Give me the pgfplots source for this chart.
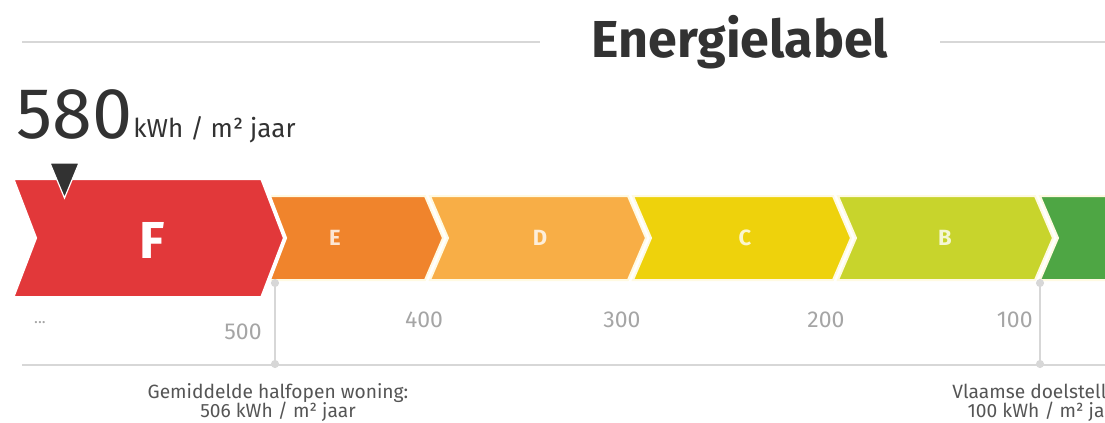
\documentclass[border=0pt]{standalone}
\usepackage{pgfplots}
\pgfplotsset{compat=1.18}
\usepackage{fontspec}
\setmainfont{Fira Sans}
\definecolor{cF}{RGB}{226,56,58}
\definecolor{cE}{RGB}{240,132,44}
\definecolor{cD}{RGB}{248,174,70}
\definecolor{cC}{RGB}{238,210,12}
\definecolor{cB}{RGB}{200,212,44}
\definecolor{cA}{RGB}{78,166,68}
\definecolor{gap}{RGB}{255,250,226}
\definecolor{dark}{RGB}{50,50,50}
\definecolor{tick}{RGB}{165,165,165}
\definecolor{rule}{RGB}{215,215,215}
\definecolor{note}{RGB}{85,85,85}
\begin{document}
\begin{tikzpicture}
\begin{axis}[
  scale only axis, width=552.5pt, height=211.5pt,
  xmin=0, xmax=1105, ymin=0, ymax=423, y dir=reverse,
  axis lines=none, clip=true,
]
% rules
\addplot[rule, line width=1pt] coordinates {(22,42) (540,42)};
\addplot[rule, line width=1pt] coordinates {(940,42) (1105,42)};
\addplot[rule, line width=1pt] coordinates {(22,365) (1105,365)};
\addplot[rule, line width=0.8pt, mark=*, mark size=1.6pt, mark options={fill=rule, draw=rule}] coordinates {(275,283) (275,364)};
\addplot[rule, line width=0.8pt, mark=*, mark size=1.6pt, mark options={fill=rule, draw=rule}] coordinates {(1040,283) (1040,364)};
% chevrons (pixel geometry)
\addplot[fill=cA, draw=gap, line width=1pt] coordinates {(1040,196) (1240,196) (1258,238) (1240,280) (1040,280) (1058,238)} -- cycle;
\addplot[fill=cB, draw=gap, line width=1pt] coordinates {(838,196) (1035,196) (1053,238) (1035,280) (838,280) (856,238)} -- cycle;
\addplot[fill=cC, draw=gap, line width=1pt] coordinates {(633,196) (833,196) (851,238) (833,280) (633,280) (651,238)} -- cycle;
\addplot[fill=cD, draw=gap, line width=1pt] coordinates {(430,196) (628,196) (646,238) (628,280) (430,280) (448,238)} -- cycle;
\addplot[fill=cE, draw=gap, line width=1pt] coordinates {(262,196) (425,196) (443,238) (425,280) (262,280) (280,238)} -- cycle;
\addplot[fill=cF, draw=white, line width=2pt] coordinates {(12,178) (262,178) (285,238) (262,298) (12,298) (35,238)} -- cycle;
% marker at 580
\addplot[fill=dark, draw=white, line width=0.6pt] coordinates {(50,163) (79,163) (64.5,198)} -- cycle;
% texts
\node[anchor=base, inner sep=0, text=dark, font=\fontsize{26}{26}\selectfont\bfseries] at (axis cs:740,57) {Energielabel};
\node[anchor=base west, inner sep=0, text=dark, font=\fontsize{36}{36}\selectfont] at (axis cs:16,138) {580};
\node[anchor=base west, inner sep=0, text=dark, font=\fontsize{13}{13}\selectfont] at (axis cs:133,137) {kWh / m² jaar};
\node[anchor=base, inner sep=0, text=white, font=\fontsize{26}{26}\selectfont\bfseries] at (axis cs:152,258) {F};
\node[anchor=base, inner sep=0, text=white, opacity=0.8, font=\fontsize{11}{11}\selectfont\bfseries] at (axis cs:335,245) {E};
\node[anchor=base, inner sep=0, text=white, opacity=0.8, font=\fontsize{11}{11}\selectfont\bfseries] at (axis cs:540,245) {D};
\node[anchor=base, inner sep=0, text=white, opacity=0.8, font=\fontsize{11}{11}\selectfont\bfseries] at (axis cs:745,245) {C};
\node[anchor=base, inner sep=0, text=white, opacity=0.8, font=\fontsize{11}{11}\selectfont\bfseries] at (axis cs:945,245) {B};
\node[anchor=center, inner sep=0, text=tick, font=\fontsize{8}{8}\selectfont] at (axis cs:40,323) {...};
\node[anchor=base east, inner sep=0, text=tick, font=\fontsize{11.5}{11.5}\selectfont] at (axis cs:262,339) {500};
\node[anchor=base, inner sep=0, text=tick, font=\fontsize{11.5}{11.5}\selectfont] at (axis cs:424,327) {400};
\node[anchor=base, inner sep=0, text=tick, font=\fontsize{11.5}{11.5}\selectfont] at (axis cs:622,327) {300};
\node[anchor=base, inner sep=0, text=tick, font=\fontsize{11.5}{11.5}\selectfont] at (axis cs:826,327) {200};
\node[anchor=base east, inner sep=0, text=tick, font=\fontsize{11.5}{11.5}\selectfont] at (axis cs:1033,327) {100};
\node[anchor=base, inner sep=0, text=note, font=\fontsize{9.6}{9.6}\selectfont] at (axis cs:278,398) {Gemiddelde halfopen woning:};
\node[anchor=base, inner sep=0, text=note, font=\fontsize{9.6}{9.6}\selectfont] at (axis cs:278,417) {506 kWh / m² jaar};
\node[anchor=base, inner sep=0, text=note, font=\fontsize{9.6}{9.6}\selectfont] at (axis cs:1045,398) {Vlaamse doelstelling:};
\node[anchor=base, inner sep=0, text=note, font=\fontsize{9.6}{9.6}\selectfont] at (axis cs:1045,417) {100 kWh / m² jaar};
\end{axis}
\pgfresetboundingbox
\useasboundingbox (current axis.south west) rectangle (current axis.north east);
\end{tikzpicture}
\end{document}
